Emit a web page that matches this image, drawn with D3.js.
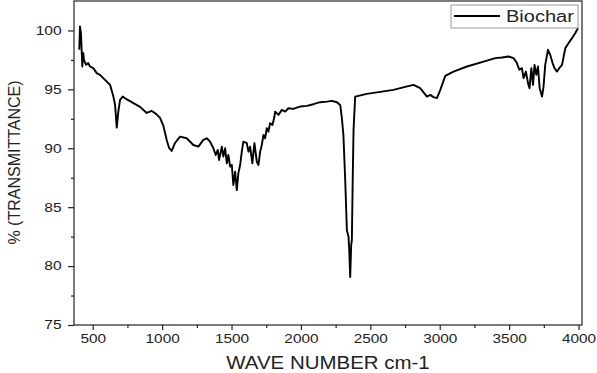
<!DOCTYPE html>
<html>
<head>
<meta charset="utf-8">
<script src="https://cdn.jsdelivr.net/npm/d3@7"></script>
<style>
  body { margin: 0; background: #fff; }
  text { font-family: "Liberation Sans", Arial, sans-serif; fill: #222; }
</style>
</head>
<body>
<script>
// FTIR spectrum of biochar
var wavenumber = [403, 408, 415, 421, 425, 432, 437, 452, 468, 480, 504, 529, 552, 576, 625, 646, 661, 673, 684, 697,
    716, 740, 790, 841, 889, 925, 956, 985, 1009, 1033, 1050, 1069, 1093, 1129, 1177, 1225, 1261, 1297, 1322, 1345,
    1369, 1386, 1401, 1410, 1430, 1441, 1454, 1466, 1477, 1490, 1502, 1513, 1526, 1538, 1549, 1562, 1574, 1585, 1610, 1622,
    1634, 1650, 1665, 1682, 1694, 1706, 1718, 1730, 1742, 1754, 1766, 1778, 1795, 1809, 1814, 1838, 1862, 1886, 1910, 1946,
    1970, 1994, 2043, 2090, 2138, 2187, 2223, 2259, 2283, 2295, 2306, 2319, 2331, 2343, 2348, 2355, 2362, 2367, 2373, 2379,
    2391, 2475, 2571, 2667, 2751, 2811, 2859, 2908, 2932, 2955, 2980, 3004, 3040, 3099, 3196, 3316, 3400, 3448, 3496, 3532,
    3556, 3573, 3592, 3604, 3621, 3636, 3647, 3660, 3672, 3683, 3696, 3708, 3720, 3737, 3748, 3760, 3780, 3796, 3813, 3827,
    3845, 3861, 3881, 3893, 3905, 3929, 3953, 3977, 3996];
var transmittance = [98.36, 100.34, 99.78, 98.08, 96.94, 98.08, 97.51, 97.08, 97.23, 96.94, 96.80, 96.38, 96.23, 95.95, 95.38, 94.53, 93.68, 91.75, 93.09, 94.11,
    94.39, 94.19, 93.85, 93.51, 93.0, 93.17, 92.92, 92.58, 91.9, 90.70, 90.03, 89.77, 90.45, 90.99, 90.85, 90.28, 90.14, 90.71, 90.85, 90.56,
    90.0, 89.43, 89.86, 89.01, 90.14, 89.29, 90.0, 88.72, 89.43, 88.44, 88.58, 86.88, 88.01, 86.45, 87.87, 88.58, 89.71, 90.56, 90.43, 89.71,
    90.14, 88.72, 90.43, 88.86, 88.58, 89.71, 90.28, 91.13, 90.85, 91.70, 91.41, 92.13, 91.98, 92.69, 93.11, 92.83, 93.26, 93.11, 93.40, 93.34,
    93.45, 93.54, 93.60, 93.74, 93.91, 93.96, 94.02, 93.91, 93.68, 92.55, 91.13, 87.30, 83.05, 82.48, 81.35, 79.08, 81.78, 82.20, 87.30, 91.56,
    94.39, 94.62, 94.79, 94.96, 95.21, 95.38, 95.10, 94.39, 94.53, 94.34, 94.25, 94.96, 96.15, 96.51, 96.94, 97.36, 97.65, 97.70, 97.79, 97.65,
    97.23, 96.66, 96.80, 95.95, 96.51, 95.53, 95.10, 96.80, 95.38, 97.08, 96.23, 96.94, 95.10, 94.39, 95.24, 97.08, 98.36, 97.93, 97.23, 96.80,
    96.51, 96.80, 97.08, 97.79, 98.50, 98.93, 99.35, 99.78, 100.20];

var xTicks = [500, 1000, 1500, 2000, 2500, 3000, 3500, 4000];
var xMinor = [750, 1250, 1750, 2250, 2750, 3250, 3750];
var yTicks = [75, 80, 85, 90, 95, 100];
var yMinor = [77.5, 82.5, 87.5, 92.5, 97.5];
var seriesName = "Biochar";

var margin = {top: 1, right: 15, bottom: 48, left: 74};
var width = 597 - margin.left - margin.right,
    height = 373 - margin.top - margin.bottom;

var svg = d3.select("body")
    .append("svg")
    .attr("width", 597)
    .attr("height", 373)
    .append("g")
    .attr("transform", "translate(" + margin.left + "," + margin.top + ")");

var xScale = d3.scaleLinear().domain([365, 4025]).range([0, width]),
    yScale = d3.scaleLinear().domain([75, 102.5]).range([height, 0]);

// frame
svg.append("rect")
    .attr("width", width).attr("height", height)
    .attr("fill", "none").attr("stroke", "#222").attr("stroke-width", 1.2);

// minor ticks
svg.append("g")
    .attr("transform", "translate(0," + height + ")")
    .call(d3.axisBottom(xScale).tickValues(xMinor).tickSize(3).tickFormat(""))
    .call(function (g) { g.select(".domain").remove(); });
svg.append("g")
    .call(d3.axisLeft(yScale).tickValues(yMinor).tickSize(3).tickFormat(""))
    .call(function (g) { g.select(".domain").remove(); });

// major ticks
var xAxis = svg.append("g")
    .attr("transform", "translate(0," + height + ")")
    .call(d3.axisBottom(xScale).tickValues(xTicks).tickSize(5).tickPadding(4).tickFormat(d3.format("d")));
xAxis.select(".domain").remove();
xAxis.selectAll("text")
    .attr("font-size", 12)
    .attr("transform", "scale(1.28,1)");

var yAxis = svg.append("g")
    .call(d3.axisLeft(yScale).tickValues(yTicks).tickSize(6).tickFormat(d3.format("d")));
yAxis.select(".domain").remove();
yAxis.selectAll("text")
    .attr("font-size", 12)
    .attr("x", -9.5)
    .attr("transform", "scale(1.3,1)");

svg.selectAll(".tick line").attr("stroke", "#222").attr("stroke-width", 1.2);

// spectrum
var points = wavenumber.map(function (w, i) { return [w, transmittance[i]]; });
svg.append("path")
    .datum(points)
    .attr("fill", "none")
    .attr("stroke", "#000")
    .attr("stroke-width", 1.9)
    .attr("stroke-linejoin", "round")
    .attr("d", d3.line()
        .x(function (d) { return xScale(d[0]); })
        .y(function (d) { return yScale(d[1]); }));

// axis titles
svg.append("g")
    .attr("transform", "translate(" + (width / 2) + "," + (373 - margin.top - 4) + ")")
    .append("text")
    .attr("text-anchor", "middle")
    .attr("font-size", 17.5)
    .attr("transform", "scale(1.17,1)")
    .text("WAVE NUMBER cm-1");

svg.append("text")
    .attr("transform", "translate(" + (20 - margin.left) + "," + (162.5 - margin.top) + ") rotate(-90)")
    .attr("text-anchor", "middle")
    .attr("font-size", 16)
    .text("% (TRANSMITTANCE)");

// legend
var legend = svg.append("g").attr("transform", "translate(" + (451 - margin.left) + "," + (5 - margin.top) + ")");
legend.append("rect")
    .attr("width", 127).attr("height", 23)
    .attr("fill", "#fff").attr("stroke", "#999").attr("stroke-width", 1);
legend.append("line")
    .attr("x1", 3).attr("x2", 49).attr("y1", 11).attr("y2", 11)
    .attr("stroke", "#000").attr("stroke-width", 1.8);
legend.append("g")
    .attr("transform", "translate(55,17)")
    .append("text")
    .attr("font-size", 16)
    .attr("transform", "scale(1.25,1)")
    .text(seriesName);
</script>
</body>
</html>
